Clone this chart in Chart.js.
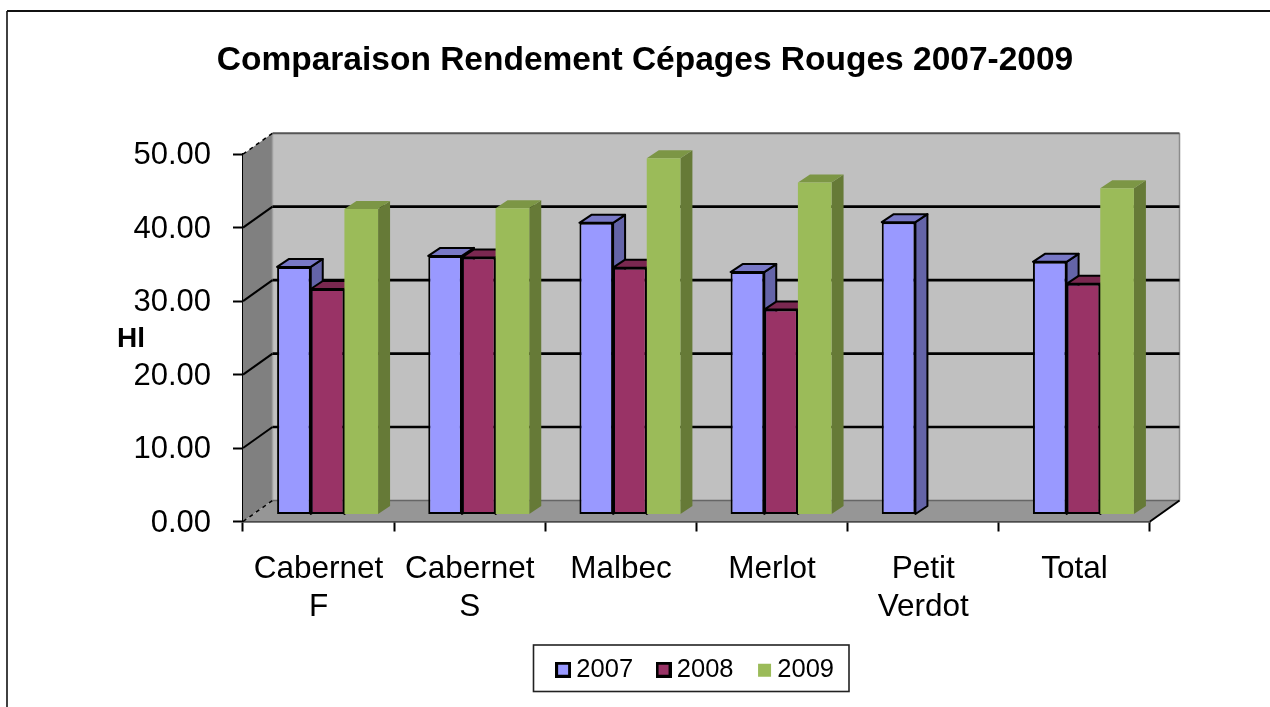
<!DOCTYPE html>
<html><head><meta charset="utf-8">
<style>html,body{margin:0;padding:0;background:#fff;overflow:hidden}canvas{display:block;filter:blur(0.45px)}</style>
<script src="https://cdn.jsdelivr.net/npm/chart.js@4"></script>
</head><body><canvas id="c" width="1270" height="707"></canvas>
<script>
const categories = [["Cabernet","F"],["Cabernet","S"],["Malbec"],["Merlot"],["Petit","Verdot"],["Total"]];
const series2007 = [33.7,35.2,39.7,33.0,39.8,34.4];
const series2008 = [30.7,35.0,33.6,27.9,null,31.4];
const series2009 = [41.6,41.7,48.5,45.2,null,44.4];
const yTicks = [0,10,20,30,40,50];
const titleText = "Comparaison Rendement Cépages Rouges 2007-2009";
const yTitle = "Hl";

const FONT = '"Liberation Sans", Arial, sans-serif';
const WALL = {dx:29.5, dy:-21};      // depth of the whole plot box
const PLANE = {dx:9, dy:-7};         // where the bars stand in that depth
const BAR = {dx:12, dy:-8};          // depth of one bar
const faces = [
  {front:'#9999ff', top:'#7878c6', side:'#6464a8', edge:'#000'},
  {front:'#993366', top:'#7a2850', side:'#5e2040', edge:'#000'},
  {front:'#9bbb59', top:'#7c9645', side:'#667a37', edge:null}
];

function swatch(f){
  const s=document.createElement('canvas'); s.width=16; s.height=16;
  const g=s.getContext('2d');
  if(f.edge){ g.fillStyle=f.edge; g.fillRect(0,0,16,16); g.fillStyle=f.front; g.fillRect(3,3,10,10); }
  else { g.fillStyle=f.front; g.fillRect(2,2,13,13); }
  return s;
}
function poly(ctx,pts,fill,stroke,w){
  ctx.beginPath(); pts.forEach((p,i)=>i?ctx.lineTo(p[0],p[1]):ctx.moveTo(p[0],p[1])); ctx.closePath();
  if(fill){ctx.fillStyle=fill;ctx.fill();}
  if(stroke){ctx.strokeStyle=stroke;ctx.lineWidth=w||1;ctx.lineJoin='round';ctx.stroke();}
}
function seg(ctx,x1,y1,x2,y2,color,w,dash){
  ctx.beginPath();ctx.setLineDash(dash||[]);ctx.moveTo(x1,y1);ctx.lineTo(x2,y2);
  ctx.strokeStyle=color;ctx.lineWidth=w;ctx.stroke();ctx.setLineDash([]);
}

const box3d = {
  id:'box3d',
  afterLayout(chart){
    const t=chart.titleBlock; t.left+=70; t.right+=70;
    const l=chart.legend; l.left=126.6; l.right=1270; l.top=627;
  },
  beforeDraw(chart){
    const c=chart.ctx;
    seg(c,7,707,7,11,'#111',1.6); seg(c,7,11,1270,11,'#111',1.8);
  },
  beforeDatasetsDraw(chart){
    const c=chart.ctx, a=chart.chartArea, y=chart.scales.y;
    const bx0=a.left+WALL.dx, bx1=a.right+WALL.dx;
    const y0=y.getPixelForValue(0), y50=y.getPixelForValue(50);
    poly(c,[[a.left,y50],[bx0,y50+WALL.dy],[bx0,y0+WALL.dy],[a.left,y0]],'#808080');
    poly(c,[[bx0,y50+WALL.dy],[bx1,y50+WALL.dy],[bx1,y0+WALL.dy],[bx0,y0+WALL.dy]],'#c0c0c0');
    poly(c,[[a.left,y0],[bx0,y0+WALL.dy],[bx1,y0+WALL.dy],[a.right,y0]],'#969696');
    seg(c,bx0,y50+WALL.dy,bx0,y0+WALL.dy,'#a0a0a0',1.5);
    seg(c,bx1,y50+WALL.dy,bx1,y0+WALL.dy,'#8c8c8c',1.5);
    seg(c,bx0,y50+WALL.dy,bx1,y50+WALL.dy,'#555',2);
    seg(c,bx0,y0+WALL.dy,bx1,y0+WALL.dy,'#666',1.5);
    yTicks.forEach(v=>{
      const p=y.getPixelForValue(v);
      if(v>0&&v<50){
        seg(c,a.left,p,bx0,p+WALL.dy,'#000',2);
        seg(c,bx0,p+WALL.dy,bx1,p+WALL.dy,'#000',2.6);
      } else {
        seg(c,a.left,p,bx0,p+WALL.dy,'#000',1.5,[4,4]);
      }
    });
    seg(c,a.right,y0,bx1,y0+WALL.dy,'#000',2);
    // side and top faces, back to front, before the library paints the fronts
    c.save(); c.translate(PLANE.dx,PLANE.dy);
    chart.data.datasets.forEach((ds,i)=>{
      const f=faces[i];
      chart.getDatasetMeta(i).data.forEach((el,j)=>{
        if(ds.data[j]==null) return;
        const l=el.x-el.width/2, r=el.x+el.width/2, t=el.y, b=el.base;
        poly(c,[[r,t],[r+BAR.dx,t+BAR.dy],[r+BAR.dx,b+BAR.dy],[r,b]],f.side,f.edge,2);
        poly(c,[[l,t],[l+BAR.dx,t+BAR.dy],[r+BAR.dx,t+BAR.dy],[r,t]],f.top,f.edge,2);
      });
    });
    c.restore();
  },
  beforeDatasetDraw(chart){
    const c=chart.ctx;
    c.save(); c.translate(PLANE.dx,PLANE.dy);
  },
  afterDatasetDraw(chart){ chart.ctx.restore(); },
  afterDraw(chart){
    const c=chart.ctx;
    c.strokeStyle='#222'; c.lineWidth=1.6; c.strokeRect(533.5,645,315.5,46.5);
    c.fillStyle='#000'; c.font='bold 28px '+FONT; c.textAlign='left'; c.textBaseline='middle';
    c.fillText(yTitle,117,339);
  }
};

const mk=(label,data,i)=>({label,data,backgroundColor:faces[i].front,
  borderColor:faces[i].edge||faces[i].front,borderWidth:faces[i].edge?2:0,borderSkipped:false,
  categoryPercentage:0.668,barPercentage:1});

new Chart(document.getElementById('c'),{
  type:'bar',
  data:{labels:categories,datasets:[mk('2007',series2007,0),mk('2008',series2008,1),mk('2009',series2009,2)]},
  plugins:[box3d],
  options:{
    responsive:false,animation:false,
    layout:{padding:{left:0,right:120,top:0,bottom:0}},
    events:[],
    plugins:{
      tooltip:{enabled:false},
      title:{display:true,text:titleText,color:'#000',
        font:{family:FONT,size:33.5,weight:'bold',lineHeight:1.2},padding:{top:41,bottom:73}},
      legend:{position:'bottom',
        labels:{color:'#000',font:{family:FONT,size:25.5,lineHeight:1.2},usePointStyle:true,pointStyleWidth:1,boxHeight:16,padding:30,
          generateLabels(chart){
            return Chart.defaults.plugins.legend.labels.generateLabels(chart)
              .map((it,i)=>Object.assign(it,{pointStyle:swatch(faces[i])}));
          }}}
    },
    scales:{
      x:{
        grid:{drawOnChartArea:false,drawTicks:true,tickLength:10,tickColor:'#000',tickWidth:2},
        border:{display:true,color:'#000',width:2.5},
        ticks:{color:'#000',padding:19,autoSkip:false,maxRotation:0,minRotation:0,
          font:{family:FONT,size:31.5,lineHeight:1.2}},
        afterFit(s){ s.height=707-521.5-s.chart.legend.height; }
      },
      y:{min:0,max:50,
        afterBuildTicks(s){ s.ticks=yTicks.map(v=>({value:v})); },
        grid:{drawOnChartArea:false,drawTicks:true,tickLength:10,tickColor:'#000',tickWidth:2},
        border:{display:true,color:'#000',width:3},
        ticks:{color:'#000',padding:22,labelOffset:1.5,callback:v=>v.toFixed(2),font:{family:FONT,size:31}},
        afterFit(s){ s.width=243; }
      }
    }
  }
});
</script></body></html>
